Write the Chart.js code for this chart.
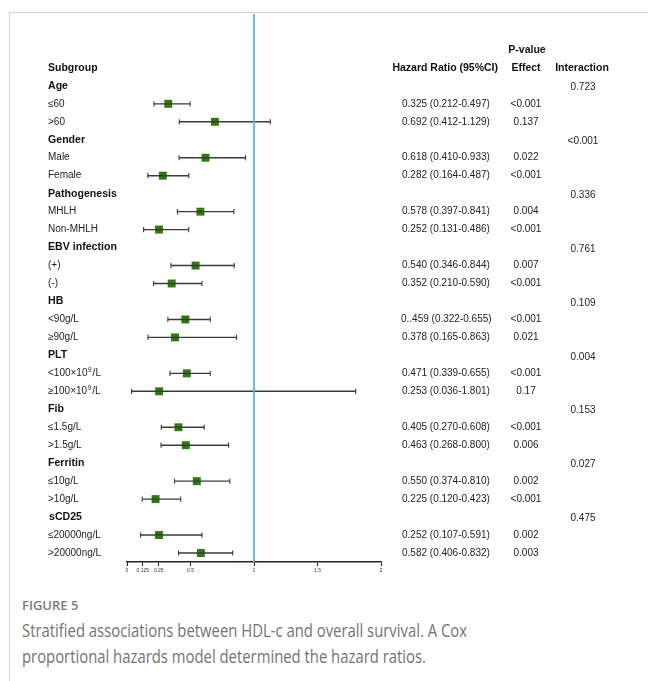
<!DOCTYPE html>
<html>
<head>
<meta charset="utf-8">
<script src="https://cdn.jsdelivr.net/npm/chart.js@4/dist/chart.umd.min.js"></script>
<style>
  html, body { margin: 0; padding: 0; background: #fff; width: 648px; height: 681px; overflow: hidden; }
  #frame { position: absolute; left: 9px; top: 12px; width: 639px; height: 668px;
           border-top: 1px solid #d2d2d2; border-left: 1px solid #d2d2d2; }
  #wrap { position: absolute; left: 0; top: 0; width: 648px; height: 590px; }
  .cap { position: absolute; left: 22px; font-family: "Open Sans", sans-serif; color: #737373;
         white-space: nowrap; transform-origin: 0 0; line-height: 1.3; }
  #fig { top: 597px; font-size: 13px; font-weight: 600; color: #7a7a7a; }
  #c1 { top: 619px; font-size: 17.5px; }
  #c2 { top: 645px; font-size: 17.5px; }
</style>
</head>
<body>
<div id="frame"></div>
<div id="wrap"><canvas id="forest" width="648" height="590"></canvas></div>
<div class="cap" id="fig">FIGURE 5</div>
<div class="cap" id="c1">Stratified associations between HDL-c and overall survival. A Cox</div>
<div class="cap" id="c2">proportional hazards model determined the hazard ratios.</div>
<script>
// Variable groups and their interaction p-values
const groupNames = ['Age', 'Gender', 'Pathogenesis', 'EBV infection', 'HB', 'PLT', 'Fib', 'Ferritin', 'sCD25'];
const interactionP = ['0.723', '<0.001', '0.336', '0.761', '0.109', '0.004', '0.153', '0.027', '0.475'];

// Subgroups (two per group, in order)
const subLabels = ['≤60', '>60', 'Male', 'Female', 'MHLH', 'Non-MHLH', '(+)', '(-)',
  '<90g/L', '≥90g/L', '<100×10⁹/L', '≥100×10⁹/L', '≤1.5g/L', '>1.5g/L',
  '≤10g/L', '>10g/L', '≤20000ng/L', '>20000ng/L'];
const hazardRatio = [0.325, 0.692, 0.618, 0.282, 0.578, 0.252, 0.540, 0.352, 0.459, 0.378,
  0.471, 0.253, 0.405, 0.463, 0.550, 0.225, 0.252, 0.582];
const ciLow = [0.212, 0.412, 0.410, 0.164, 0.397, 0.131, 0.346, 0.210, 0.322, 0.165,
  0.339, 0.036, 0.270, 0.268, 0.374, 0.120, 0.107, 0.406];
const ciHigh = [0.497, 1.129, 0.933, 0.487, 0.841, 0.486, 0.844, 0.590, 0.655, 0.863,
  0.655, 1.801, 0.608, 0.800, 0.810, 0.423, 0.591, 0.832];
const hrLabels = ['0.325 (0.212-0.497)', '0.692 (0.412-1.129)', '0.618 (0.410-0.933)', '0.282 (0.164-0.487)',
  '0.578 (0.397-0.841)', '0.252 (0.131-0.486)', '0.540 (0.346-0.844)', '0.352 (0.210-0.590)',
  '0..459 (0.322-0.655)', '0.378 (0.165-0.863)', '0.471 (0.339-0.655)', '0.253 (0.036-1.801)',
  '0.405 (0.270-0.608)', '0.463 (0.268-0.800)', '0.550 (0.374-0.810)', '0.225 (0.120-0.423)',
  '0.252 (0.107-0.591)', '0.582 (0.406-0.832)'];
const pEffect = ['<0.001', '0.137', '0.022', '<0.001', '0.004', '<0.001', '0.007', '<0.001',
  '<0.001', '0.021', '<0.001', '0.17', '<0.001', '0.006', '0.002', '<0.001', '0.002', '0.003'];

// Hazard-ratio axis ticks
const xTicks = [0, 0.125, 0.25, 0.5, 1, 1.5, 2];

// Row index of each subgroup: a header row per group, then its two subgroups
const subRow = subLabels.map((_, i) => 3 * Math.floor(i / 2) + 1 + (i % 2));
const groupRow = groupNames.map((_, g) => 3 * g);
const yMin = -4, yMax = 26.5;

const FONT = '"Liberation Sans", Arial, sans-serif';
const squareColor = '#2f7a0c';
const whiskerColor = '#3a3a3a';

const datasets = [];
// reference line at HR = 1
datasets.push({
  data: [{ x: 1, y: yMin }, { x: 1, y: yMax }],
  showLine: true, borderColor: '#5cb6cd', borderWidth: 1, pointRadius: 0
});
// confidence-interval whiskers
subLabels.forEach((_, i) => {
  datasets.push({
    data: [{ x: ciLow[i], y: subRow[i] }, { x: ciHigh[i], y: subRow[i] }],
    showLine: true, borderColor: whiskerColor, borderWidth: 1.4, pointRadius: 0
  });
});
// whisker end caps
datasets.push({
  data: subLabels.flatMap((_, i) => [{ x: ciLow[i], y: subRow[i] }, { x: ciHigh[i], y: subRow[i] }]),
  pointStyle: 'line', rotation: 90, pointRadius: 2.6, borderColor: whiskerColor, borderWidth: 1.1
});
// point estimates
datasets.push({
  data: subLabels.map((_, i) => ({ x: hazardRatio[i], y: subRow[i] })),
  pointStyle: 'rect', pointRadius: 5.6, backgroundColor: squareColor, borderColor: squareColor, borderWidth: 0
});

// Writes a label, raising any superscript digit (⁹) above the baseline
function drawLabel(ctx, text, x, y, size) {
  const sup = '⁹';
  const k = text.indexOf(sup);
  if (k < 0) { ctx.fillText(text, x, y); return; }
  const head = text.slice(0, k), tail = text.slice(k + 1);
  ctx.fillText(head, x, y);
  let cx = x + ctx.measureText(head).width;
  const saved = ctx.font;
  ctx.font = `${size * 0.65}px ${FONT}`;
  ctx.fillText('9', cx + 0.5, y - size * 0.32);
  cx += ctx.measureText('9').width + 1.5;
  ctx.font = saved;
  ctx.fillText(tail, cx, y);
}

// Table text drawn alongside the plot, positioned on the chart's y scale
const tableText = {
  id: 'tableText',
  afterDraw(chart) {
    const ctx = chart.ctx;
    const y = v => chart.scales.y.getPixelForValue(v);
    const bold = s => `bold ${s}px ${FONT}`;
    const reg = s => `${s}px ${FONT}`;
    ctx.save();
    ctx.textBaseline = 'middle';
    ctx.fillStyle = '#111';

    // column headers
    ctx.font = bold(10.5);
    ctx.textAlign = 'left';
    ctx.fillText('Subgroup', 48, y(-1));
    ctx.textAlign = 'right';
    ctx.fillText('Hazard Ratio (95%CI)', 498, y(-1));
    ctx.textAlign = 'center';
    ctx.fillText('P-value', 527, y(-2));
    ctx.fillText('Effect', 526, y(-1));
    ctx.fillText('Interaction', 582, y(-1));

    // group headers and interaction p-values
    groupNames.forEach((name, g) => {
      ctx.fillStyle = '#111';
      ctx.font = bold(10.6);
      ctx.textAlign = 'left';
      ctx.fillText(name, name === 'sCD25' ? 49 : 48, y(groupRow[g]));
      ctx.fillStyle = '#222';
      ctx.font = reg(10);
      ctx.textAlign = 'center';
      ctx.fillText(interactionP[g], 583, y(groupRow[g] + 0.08));
    });

    // subgroup rows
    ctx.fillStyle = '#222';
    ctx.font = reg(10);
    subLabels.forEach((lab, i) => {
      const yy = y(subRow[i]);
      ctx.textAlign = 'left';
      drawLabel(ctx, lab, 48, yy, 10);
      ctx.fillText(hrLabels[i], hrLabels[i].startsWith('0..') ? 401 : 402, yy);
      ctx.textAlign = 'center';
      ctx.fillText(pEffect[i], 526, yy);
    });
    ctx.restore();
  }
};

new Chart(document.getElementById('forest'), {
  type: 'scatter',
  data: { datasets },
  options: {
    responsive: false,
    animation: false,
    events: [],
    layout: { padding: { left: 127, right: 267, top: 14, bottom: 12 } },
    plugins: { legend: { display: false }, tooltip: { enabled: false } },
    scales: {
      x: {
        type: 'linear', min: 0, max: 2, position: 'bottom',
        afterBuildTicks: s => { s.ticks = xTicks.map(v => ({ value: v })); },
        afterFit: s => { s.height = 16; },
        border: { display: true, color: '#222', width: 1.5 },
        grid: { display: true, drawOnChartArea: false, drawTicks: true, tickLength: 4, color: '#222', lineWidth: 1 },
        ticks: { font: { family: FONT, size: 5 }, color: '#333', padding: 2, maxRotation: 0, autoSkip: false,
                 callback: v => String(v) }
      },
      y: { type: 'linear', reverse: true, min: yMin, max: yMax, display: false }
    }
  },
  plugins: [tableText]
});

// Caption: narrow the lines to the figure's text width
(function () {
  const c1 = document.getElementById('c1'), c2 = document.getElementById('c2');
  const k = 445 / c1.getBoundingClientRect().width;
  c1.style.transform = `scaleX(${k})`;
  c2.style.transform = `scaleX(${k})`;
})();
</script>
</body>
</html>
